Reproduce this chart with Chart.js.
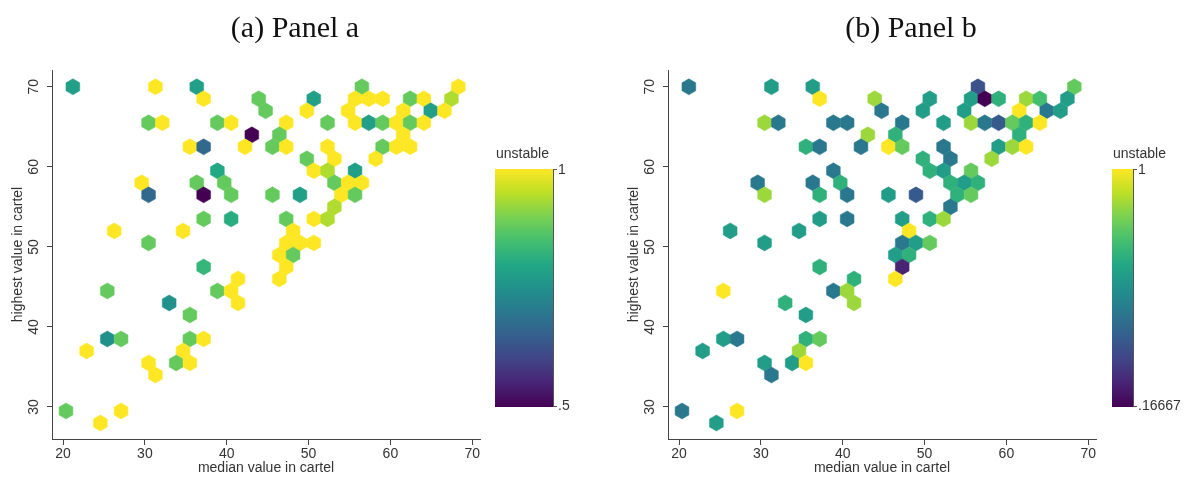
<!DOCTYPE html>
<html>
<head>
<meta charset="utf-8">
<script src="https://cdn.jsdelivr.net/npm/chart.js@4.4.1/dist/chart.umd.min.js"></script>
<style>
  html, body { margin: 0; padding: 0; background: #fff; overflow: hidden; }
  .panel { position: absolute; top: 0; height: 478px; }
</style>
</head>
<body>
<div class="panel" style="left:0;width:600px"><canvas id="panelA" width="600" height="478"></canvas></div>
<div class="panel" style="left:616px;width:573px"><canvas id="panelB" width="573" height="478"></canvas></div>
<script>
// hex bin centres, shared by both panels (row by row, top to bottom)
const hexX = [
  21.20, 31.29, 36.34, 56.52, 68.30,
  37.18, 43.91, 50.64, 55.68, 57.36, 59.05, 62.41, 64.09, 67.46,
  44.75, 49.79, 54.84, 61.57, 64.93, 66.61,
  30.45, 32.13, 38.86, 40.54, 47.27, 52.32, 55.68, 57.36, 59.05, 60.73, 62.41, 64.09,
  43.07, 46.43, 61.57,
  35.50, 37.18, 42.23, 45.59, 47.27, 52.32, 59.05, 60.73, 62.41,
  49.79, 53.16, 58.20,
  38.86, 50.64, 52.32, 55.68,
  29.61, 36.34, 39.70, 53.16, 54.84, 56.52,
  30.45, 37.18, 40.54, 45.59, 48.95, 54.00, 55.68,
  53.16,
  37.18, 40.54, 47.27, 50.64, 52.32,
  26.25, 34.66, 48.11,
  30.45, 47.27, 48.95, 50.64,
  46.43, 48.11,
  37.18, 47.27,
  41.38, 46.43,
  25.41, 38.86, 40.54,
  32.97, 41.38,
  35.50,
  25.41, 27.09, 35.50, 37.18,
  22.88, 34.66,
  30.45, 33.82, 35.50,
  31.29,
  20.36, 27.09,
  24.56
];
const hexY = [
  70, 70, 70, 70, 70,
  68.5, 68.5, 68.5, 68.5, 68.5, 68.5, 68.5, 68.5, 68.5,
  67, 67, 67, 67, 67, 67,
  65.5, 65.5, 65.5, 65.5, 65.5, 65.5, 65.5, 65.5, 65.5, 65.5, 65.5, 65.5,
  64, 64, 64,
  62.5, 62.5, 62.5, 62.5, 62.5, 62.5, 62.5, 62.5, 62.5,
  61, 61, 61,
  59.5, 59.5, 59.5, 59.5,
  58, 58, 58, 58, 58, 58,
  56.5, 56.5, 56.5, 56.5, 56.5, 56.5, 56.5,
  55,
  53.5, 53.5, 53.5, 53.5, 53.5,
  52, 52, 52,
  50.5, 50.5, 50.5, 50.5,
  49, 49,
  47.5, 47.5,
  46, 46,
  44.5, 44.5, 44.5,
  43, 43,
  41.5,
  38.5, 38.5, 38.5, 38.5,
  37, 37,
  35.5, 35.5, 35.5,
  34,
  29.5, 29.5,
  28
];
// share of unstable cartels in each bin
const unstableA = [
  .78, 1, .78, .88, 1,
  1, .88, .78, 1, 1, 1, .88, 1, .94,
  .88, 1, 1, 1, .78, 1,
  .88, 1, .88, 1, 1, .88, 1, .78, .88, 1, .88, 1,
  .5, .88, 1,
  1, .67, 1, .88, 1, 1, .88, 1, 1,
  .88, 1, 1,
  .8, 1, .94, .78,
  1, .88, .88, .88, 1, 1,
  .67, .5, .88, .88, .78, 1, .88,
  .94,
  .88, .81, .88, 1, .94,
  1, 1, 1,
  .88, 1, 1, 1,
  1, .88,
  .83, 1,
  1, 1,
  .88, .88, 1,
  .75, 1,
  .88,
  .75, .88, .88, 1,
  1, 1,
  1, .88, 1,
  1,
  .88, 1,
  1
];
const unstableB = [
  .5, .625, .625, .375, .8,
  1, .875, .625, .625, .167, .7, .875, .75, .625,
  .5, .625, .625, 1, .5, .625,
  .875, .5, .5, .5, .5, .625, .875, .5, .4, .8, .7, 1,
  .875, .7, .7,
  .7, .5, .5, 1, .8, .5, .625, .875, 1,
  .7, .5, .875,
  .5, .7, .625, .8,
  .5, .5, .7, .7, .625, .7,
  .875, .7, .5, .625, .4, .7, .8,
  .5,
  .625, .5, .625, .7, .875,
  .625, .625, 1,
  .625, .5, .625, .8,
  .625, .7,
  .7, .25,
  .7, 1,
  1, .5, .875,
  .7, .875,
  .625,
  .625, .5, .7, .8,
  .625, .875,
  .625, .625, 1,
  .5,
  .5, 1,
  .625
];
const xTicks = [20, 30, 40, 50, 60, 70];
const yTicks = [30, 40, 50, 60, 70];
const rangeA = [0.5, 1];
const rangeB = [1 / 6, 1];
const barLabelsA = ["1", ".5"];
const barLabelsB = ["1", ".16667"];

const hexWidth = 1.682;   // x units between neighbours in a row
const hexRadius = 1;      // y units, centre to top vertex

const viridis = ["#440154", "#482475", "#414487", "#355f8d", "#2a788e", "#21918c",
                 "#22a884", "#44bf70", "#7ad151", "#bddf26", "#fde725"];

function hexToRgb(h) {
  return [1, 3, 5].map((i) => parseInt(h.slice(i, i + 2), 16));
}

function colorFor(v, range) {
  let t = (v - range[0]) / (range[1] - range[0]);
  t = Math.max(0, Math.min(1, t));
  const pos = t * (viridis.length - 1);
  const i = Math.min(Math.floor(pos), viridis.length - 2);
  const f = pos - i;
  const a = hexToRgb(viridis[i]);
  const b = hexToRgb(viridis[i + 1]);
  const c = a.map((ch, k) => Math.round(ch + (b[k] - ch) * f));
  return `rgb(${c[0]},${c[1]},${c[2]})`;
}

const axisFont = { family: "'Liberation Sans', Arial, sans-serif", size: 14 };

function makePanel(id, title, values, range, barLabels, bar) {
  const canvas = document.getElementById(id);
  const width = canvas.width;

  // draws the hexagons at the points placed by the scatter controller
  const hexPlugin = {
    id: "hexbins",
    afterDatasetsDraw(chart) {
      const { ctx, scales } = chart;
      const meta = chart.getDatasetMeta(0);
      const r = Math.abs(scales.y.getPixelForValue(hexRadius) - scales.y.getPixelForValue(0));
      const hw = Math.abs(scales.x.getPixelForValue(hexWidth / 2) - scales.x.getPixelForValue(0));
      ctx.save();
      meta.data.forEach((pt, i) => {
        const col = colorFor(values[i], range);
        ctx.beginPath();
        ctx.moveTo(pt.x, pt.y - r);
        ctx.lineTo(pt.x + hw, pt.y - r / 2);
        ctx.lineTo(pt.x + hw, pt.y + r / 2);
        ctx.lineTo(pt.x, pt.y + r);
        ctx.lineTo(pt.x - hw, pt.y + r / 2);
        ctx.lineTo(pt.x - hw, pt.y - r / 2);
        ctx.closePath();
        ctx.fillStyle = col;
        ctx.fill();
        ctx.strokeStyle = col;
        ctx.lineWidth = 0.5;
        ctx.stroke();
      });
      ctx.restore();
    },
  };

  // panel title and colour bar
  const decoPlugin = {
    id: "deco",
    afterDraw(chart) {
      const ctx = chart.ctx;
      ctx.save();
      ctx.fillStyle = "#111";
      ctx.font = "30px 'Liberation Serif', serif";
      ctx.textAlign = "center";
      ctx.textBaseline = "alphabetic";
      ctx.fillText(title, 295, 37);

      const top = 169, bottom = 407;
      const g = ctx.createLinearGradient(0, bottom, 0, top);
      viridis.forEach((c, i) => g.addColorStop(i / (viridis.length - 1), c));
      ctx.fillStyle = g;
      ctx.fillRect(bar.left, top, bar.width, bottom - top);

      const right = bar.left + bar.width;
      ctx.strokeStyle = "#555";
      ctx.lineWidth = 1;
      ctx.beginPath();
      ctx.moveTo(right + 0.5, top);
      ctx.lineTo(right + 0.5, bottom);
      ctx.moveTo(right, top + 0.5);
      ctx.lineTo(right + 4, top + 0.5);
      ctx.moveTo(right, bottom - 0.5);
      ctx.lineTo(right + 4, bottom - 0.5);
      ctx.stroke();

      ctx.fillStyle = "#333";
      ctx.font = "14px 'Liberation Sans', Arial, sans-serif";
      ctx.textAlign = "left";
      ctx.textBaseline = "middle";
      ctx.fillText(barLabels[0], right + 5, top + 1);
      ctx.fillText(barLabels[1], right + 5, bottom - 1);
      ctx.textBaseline = "alphabetic";
      ctx.fillText("unstable", bar.left + 1, 158);
      ctx.restore();
    },
  };

  return new Chart(canvas, {
    type: "scatter",
    data: {
      datasets: [
        {
          data: hexX.map((x, i) => ({ x: x, y: hexY[i] })),
          pointRadius: 0,
          pointHoverRadius: 0,
        },
      ],
    },
    options: {
      responsive: false,
      animation: false,
      layout: { padding: { left: 0, top: 70, right: width - 480, bottom: 0 } },
      plugins: {
        legend: { display: false },
        tooltip: { enabled: false },
      },
      scales: {
        x: {
          type: "linear",
          min: 18.65,
          max: 70.95,
          afterBuildTicks: (s) => { s.ticks = xTicks.map((v) => ({ value: v })); },
          afterFit: (s) => { s.height = 39; },
          grid: { drawOnChartArea: false, tickLength: 6, tickColor: "#444" },
          border: { color: "#444", width: 1 },
          ticks: { padding: 1, color: "#333", font: axisFont, maxRotation: 0 },
          title: {
            display: true,
            text: "median value in cartel",
            color: "#333",
            font: axisFont,
            padding: { top: 0, bottom: 1 },
          },
        },
        y: {
          type: "linear",
          min: 26,
          max: 72.1,
          afterBuildTicks: (s) => { s.ticks = yTicks.map((v) => ({ value: v })); },
          afterFit: (s) => { s.width = 52; },
          grid: { drawOnChartArea: false, tickLength: 5, tickColor: "#444" },
          border: { color: "#444", width: 1 },
          ticks: {
            padding: 5,
            color: "#333",
            font: axisFont,
            minRotation: 90,
            maxRotation: 90,
            crossAlign: "center",
          },
          title: {
            display: true,
            text: "highest value in cartel",
            color: "#333",
            font: axisFont,
            padding: { top: 10, bottom: 0 },
          },
        },
      },
    },
    plugins: [hexPlugin, decoPlugin],
  });
}

makePanel("panelA", "(a) Panel a", unstableA, rangeA, barLabelsA, { left: 495, width: 58 });
makePanel("panelB", "(b) Panel b", unstableB, rangeB, barLabelsB, { left: 496, width: 21 });
</script>
</body>
</html>
